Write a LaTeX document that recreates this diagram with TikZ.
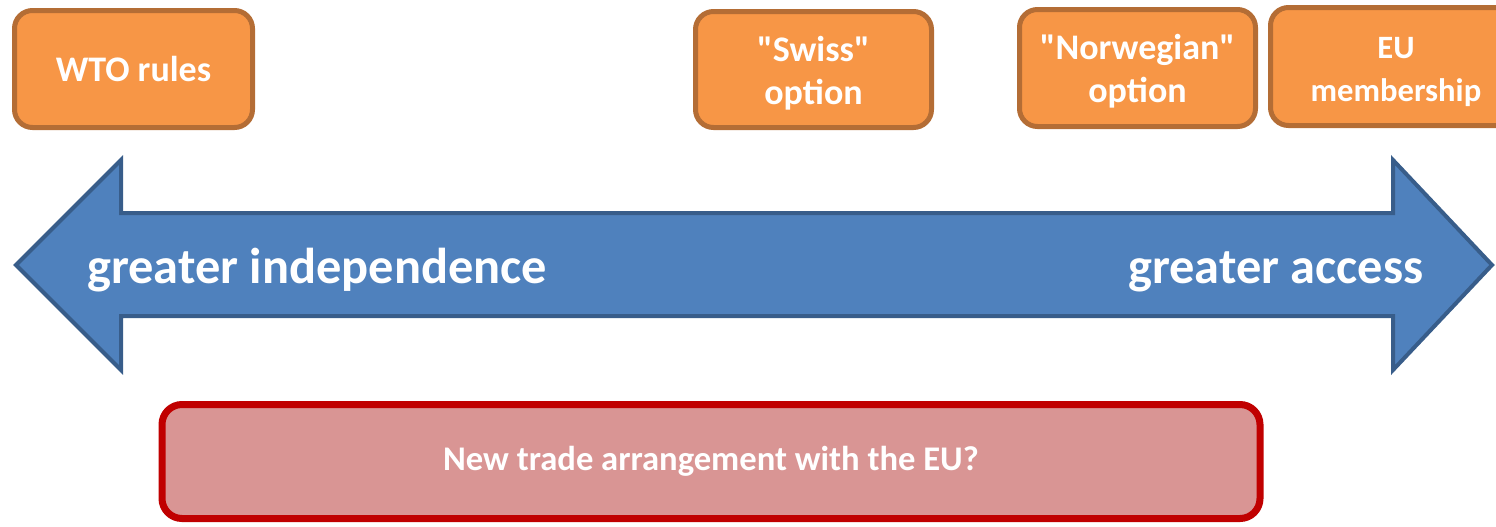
\documentclass[tikz,border=0pt]{standalone}
\usepackage{fontspec}
\setmainfont{Carlito}
\usepackage{tikz}
\usetikzlibrary{positioning}

\definecolor{optfill}{HTML}{F79646}
\definecolor{optline}{HTML}{B46D35}
\definecolor{arrfill}{HTML}{4F81BD}
\definecolor{arrline}{HTML}{385D8A}
\definecolor{newfill}{HTML}{D99594}
\definecolor{newline}{HTML}{C00000}

% straight quotes and a top strut for two-line boxes
\newcommand{\qt}[1]{\textquotedbl#1\textquotedbl}
\newcommand{\topstrut}{\rule{0pt}{16pt}}

\begin{document}
\begin{tikzpicture}
		[x=0.5pt,y=-0.5pt,font=\bfseries,
		option box/.style={draw=optline,fill=optfill,line width=2.5pt,rounded corners=9pt,
			text=white,align=center,inner sep=0pt,font=\bfseries\fontsize{18}{21.5}\selectfont},
		trade box/.style={draw=newline,fill=newfill,line width=3.5pt,rounded corners=10pt,
			text=white,inner sep=0pt,font=\bfseries\fontsize{17.3}{20}\selectfont},
		side label/.style={text=white,inner sep=0pt,font=\bfseries\fontsize{25.2}{30}\selectfont}]
		\clip (0,0) rectangle (1496,526);

		% the double arrow
		\draw[fill=arrfill,draw=arrline,line width=2pt,line join=miter]
		(16,265) -- (121,160) -- (121,213) -- (1393,213) -- (1393,160) -- (1492,265)
		-- (1393,370) -- (1393,316) -- (121,316) -- (121,370) -- cycle;

		\node[side label,anchor=base west] (indep) at (87,283) {greater independence};
		\node[side label,anchor=base east] (access) at (1424,283) {greater access};

		% options along the top
		\node[option box,minimum width=119pt,minimum height=58.5pt] (wto) at (133.5,69) {WTO rules};
		\node[option box,minimum width=118pt,minimum height=58pt] (swiss) at (813.5,69.5) {\topstrut\qt{Swiss}\\option};
		\node[option box,minimum width=118pt,minimum height=58.5pt] (norway) at (1137.5,68) {\topstrut\qt{Norwegian}\\option};
		\node[option box,minimum width=125.5pt,minimum height=59pt,
			font=\bfseries\fontsize{16.3}{21.5}\selectfont] (eu) at (1396,66.5) {\topstrut EU\\membership};

		% the open question below
		\node[trade box,minimum width=549pt,minimum height=57pt] (deal) at (711,461.5) {New trade arrangement with the EU?};
\end{tikzpicture}
\end{document}
